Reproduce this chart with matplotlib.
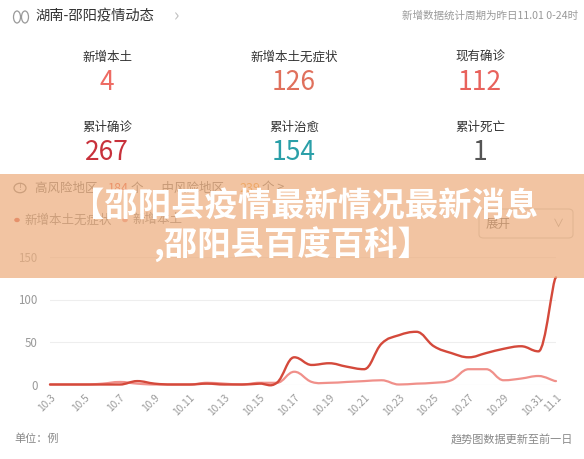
import numpy as np
import matplotlib
matplotlib.use("Agg")
import matplotlib.pyplot as plt
from matplotlib.path import Path
from matplotlib.patches import PathPatch, Rectangle, FancyBboxPatch, Circle, Ellipse

plt.rcParams['font.family'] = ['Noto Sans CJK SC', 'DejaVu Sans']

# ---------------- data ----------------
dates = ['10.3', '10.4', '10.5', '10.6', '10.7', '10.8', '10.9', '10.10', '10.11', '10.12',
         '10.13', '10.14', '10.15', '10.16', '10.17', '10.18', '10.19', '10.20', '10.21', '10.22',
         '10.23', '10.24', '10.25', '10.26', '10.27', '10.28', '10.29', '10.30', '10.31', '11.1']
new_asymptomatic = [0, 0, 0, 0, 0, 4, 1, 0, 0, 1,
                    0, 0, 1, 2, 32, 23, 25, 21, 18, 48,
                    58, 62, 45, 37, 32, 37, 42, 45, 39, 126]
new_local = [0, 0, 0, 1, 3, 1, 0, 0, 0, 2,
             1, 0, 2, 2, 15, 3, 2, 3, 4, 5,
             0, 1, 2, 5, 18, 18, 5, 7, 10, 4]
yticks = [0, 50, 100, 150]

stat_labels = ['新增本土', '新增本土无症状', '现有确诊', '累计确诊', '累计治愈', '累计死亡']
stat_values = ['4', '126', '112', '267', '154', '1']
stat_colors = ['#ee6b63', '#e0705c', '#e8625c', '#c8313b', '#2a9fa8', '#555555']

header_title = '湖南-邵阳疫情动态'
header_note = '新增数据统计周期为昨日11.01 0-24时'
risk_high, risk_mid = 184, 239
banner_line1 = '【邵阳县疫情最新情况最新消息'
banner_line2 = ',邵阳县百度百科】'
unit_text = '单位：例'
update_text = '趋势图数据更新至前一日'

W, H = 584, 459
fig = plt.figure(figsize=(W / 100, H / 100), dpi=100)
fig.patch.set_facecolor('white')


def fx(x):
    return x / W


def fy(y):
    return 1 - y / H


# ---------------- header ----------------
# lung icon
fig.patches.append(Ellipse((fx(17), fy(17)), 7 / W, 12 / H, transform=fig.transFigure,
                           fill=False, ec='#999999', lw=0.9))
fig.patches.append(Ellipse((fx(25), fy(17)), 7 / W, 12 / H, transform=fig.transFigure,
                           fill=False, ec='#999999', lw=0.9))
fig.text(fx(35), fy(16), header_title, fontsize=10.3, color='#333333', va='center', ha='left')
fig.text(fx(174), fy(16), '›', fontsize=13, color='#c0c0c0', va='center', ha='left')
fig.text(fx(578), fy(16), header_note, fontsize=7.6, color='#999999', va='center', ha='right')

# ---------------- stats grid ----------------
col_x = [107, 294, 480]
row_label_y = [57, 127]
row_value_y = [82, 153]
for i, (lab, val, col) in enumerate(zip(stat_labels, stat_values, stat_colors)):
    r, c = divmod(i, 3)
    fig.text(fx(col_x[c]), fy(row_label_y[r]), lab, fontsize=9, color='#333333',
             ha='center', va='center')
    fig.text(fx(col_x[c]), fy(row_value_y[r]), val, fontsize=19, color=col,
             ha='center', va='center', fontweight='light')

# ---------------- content under the banner ----------------
fig.patches.append(Circle((fx(20), fy(188)), 6 / W, transform=fig.transFigure,
                          fill=False, ec='#777777', lw=0.9))
fig.text(fx(20), fy(188), '!', fontsize=6.5, color='#777777', ha='center', va='center')
fig.text(fx(35), fy(188), '高风险地区 ', fontsize=9, color='#666666', ha='left', va='center')
fig.text(fx(108), fy(188), str(risk_high), fontsize=9, color='#e8503a', ha='left', va='center')
fig.text(fx(131), fy(188), '个 、 中风险地区', fontsize=9, color='#666666', ha='left', va='center')
fig.text(fx(239), fy(188), str(risk_mid), fontsize=9, color='#f29a2e', ha='left', va='center')
fig.text(fx(262), fy(188), '个 >', fontsize=9, color='#666666', ha='left', va='center')

fig.patches.append(Circle((fx(17), fy(220)), 2.8 / W, transform=fig.transFigure,
                          fc='#d64a3c', ec='none'))
fig.text(fx(24), fy(220), '新增本土无症状', fontsize=9, color='#777777', ha='left', va='center')
fig.patches.append(Circle((fx(125), fy(220)), 2.8 / W, transform=fig.transFigure,
                          fc='#f0908a', ec='none'))
fig.text(fx(132), fy(220), '新增本土', fontsize=9, color='#777777', ha='left', va='center')

fig.patches.append(FancyBboxPatch((fx(479), fy(238)), 94 / W, 29 / H,
                                  boxstyle='round,pad=0,rounding_size=0.008',
                                  transform=fig.transFigure, fill=False,
                                  ec='#c8c8c8', lw=0.8))
fig.text(fx(486), fy(224), '展开', fontsize=9, color='#555555', ha='left', va='center')
fig.text(fx(558), fy(224), '∨', fontsize=8, color='#999999', ha='center', va='center')

# ---------------- chart ----------------
ax = fig.add_axes([fx(50), fy(384.5), 506 / W, (384.5 - 257) / H])
ax.set_xlim(0, len(dates) - 1)
ax.set_ylim(0, 150)
for s in ax.spines.values():
    s.set_visible(False)
ax.set_yticks(yticks)
ax.set_yticklabels([str(v) for v in yticks])
ax.tick_params(axis='y', length=0, pad=9, labelsize=8.3, labelcolor='#999999')
for v in yticks:
    ax.axhline(v, color='#eeeeee' if v else '#e4e4e4', lw=0.8, zorder=0)

xi = list(range(0, len(dates) - 1, 2)) + [len(dates) - 1]
ax.set_xticks(xi)
ax.set_xticklabels([dates[i] for i in xi], rotation=45, ha='right', va='top',
                   rotation_mode='anchor')
ax.tick_params(axis='x', length=0, pad=6, labelsize=7.3, labelcolor='#999999')


def smooth_path(xs, ys, s=0.2):
    pts = np.column_stack([xs, ys]).astype(float)
    n = len(pts)
    verts = [pts[0]]
    codes = [Path.MOVETO]
    for i in range(n - 1):
        p0 = pts[max(i - 1, 0)]
        p1 = pts[i]
        p2 = pts[i + 1]
        p3 = pts[min(i + 2, n - 1)]
        c1 = p1 + (p2 - p0) * s
        c2 = p2 - (p3 - p1) * s
        lo, hi = min(p1[1], p2[1]), max(p1[1], p2[1])
        if (p1[1] - p0[1]) * (p2[1] - p1[1]) <= 0:
            c1[1] = p1[1]
        if (p2[1] - p1[1]) * (p3[1] - p2[1]) <= 0:
            c2[1] = p2[1]
        verts += [c1, c2, p2]
        codes += [Path.CURVE4] * 3
    return Path(verts, codes)


xs = np.arange(len(dates))
ax.add_patch(PathPatch(smooth_path(xs, new_local), fill=False, ec='#f0908a', lw=1.6,
                       zorder=3, clip_on=False, capstyle='round', joinstyle='round'))
ax.add_patch(PathPatch(smooth_path(xs, new_asymptomatic), fill=False, ec='#d4493b', lw=1.7,
                       zorder=4, clip_on=False, capstyle='round', joinstyle='round'))

# ---------------- banner overlay ----------------
fig.patches.append(Rectangle((0, fy(278)), 1, (278 - 174) / H, transform=fig.transFigure,
                             fc='#edae7e', alpha=0.72, ec='none', zorder=10))
fig.text(fx(305), fy(207), banner_line1, fontsize=24, color='white', fontweight='heavy',
         ha='center', va='center', zorder=11)
fig.text(fx(292), fy(245), banner_line2, fontsize=24, color='white', fontweight='heavy',
         ha='center', va='center', zorder=11)

# ---------------- footer ----------------
fig.text(fx(14), fy(439), unit_text, fontsize=8, color='#888888', ha='left', va='center')
fig.text(fx(573), fy(439), update_text, fontsize=8, color='#888888', ha='right', va='center')

fig.savefig('out.png', dpi=100, facecolor='white')
